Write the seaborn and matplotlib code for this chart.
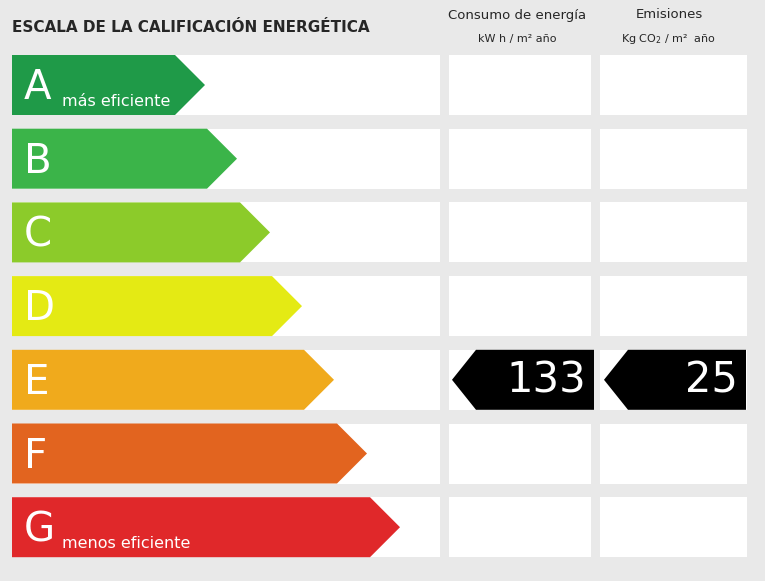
import seaborn as sns
import matplotlib.pyplot as plt
from matplotlib.patches import Polygon, Rectangle

sns.set_style("white")
plt.rcParams['font.family'] = ['Liberation Sans Narrow', 'DejaVu Sans']

letters = ["A", "B", "C", "D", "E", "F", "G"]
tips = [205, 237, 270, 302, 334, 367, 400]
colors = ["#1f9a48", "#3bb449", "#8ccb2a", "#e4ea14", "#f0aa1c", "#e2641f", "#e0282a"]
notes = {0: "más eficiente", 6: "menos eficiente"}
rating = "E"
consumo = "133"
emisiones = "25"

fig = plt.figure(figsize=(7.65, 5.81), dpi=100)
fig.patch.set_facecolor("#e9e9e9")
ax = fig.add_axes([0, 0, 1, 1])
ax.set_xlim(0, 765)
ax.set_ylim(581, 0)
ax.axis("off")

ax.text(12, 27, "ESCALA DE LA CALIFICACIÓN ENERGÉTICA", fontsize=11, fontweight="bold", va="center")
ax.text(517, 15, "Consumo de energía", fontsize=9.5, ha="center", va="center")
ax.text(517, 39, "kW h / m² año", fontsize=8, ha="center", va="center")
ax.text(669, 15, "Emisiones", fontsize=9.5, ha="center", va="center")
ax.text(669, 39, "Kg CO$_2$ / m²  año", fontsize=8, ha="center", va="center")

h = 60
for i, (let, tip, col) in enumerate(zip(letters, tips, colors)):
    top = 55 + i * 73.7
    for x0, x1 in [(12, 440), (449, 591), (600, 747)]:
        ax.add_patch(Rectangle((x0, top), x1 - x0, h, facecolor="white", edgecolor="none"))
    ax.add_patch(Polygon([(12, top), (tip - 30, top), (tip, top + h / 2), (tip - 30, top + h), (12, top + h)],
                         facecolor=col, edgecolor="none"))
    ax.text(24, top + h / 2 + 3, let, fontsize=29, color="white", va="center")
    if i in notes:
        ax.text(62, top + h - 14, notes[i], fontsize=11.5, color="white", va="center")
    if let == rating:
        for x0, x1, val in [(452, 594, consumo), (604, 746, emisiones)]:
            ax.add_patch(Polygon([(x0, top + h / 2), (x0 + 24, top), (x1, top), (x1, top + h), (x0 + 24, top + h)],
                                 facecolor="black", edgecolor="none"))
            ax.text(x1 - 8, top + h / 2 + 1, val, fontsize=30, color="white", ha="right", va="center")

fig.savefig("out.png", dpi=100, facecolor=fig.get_facecolor())
